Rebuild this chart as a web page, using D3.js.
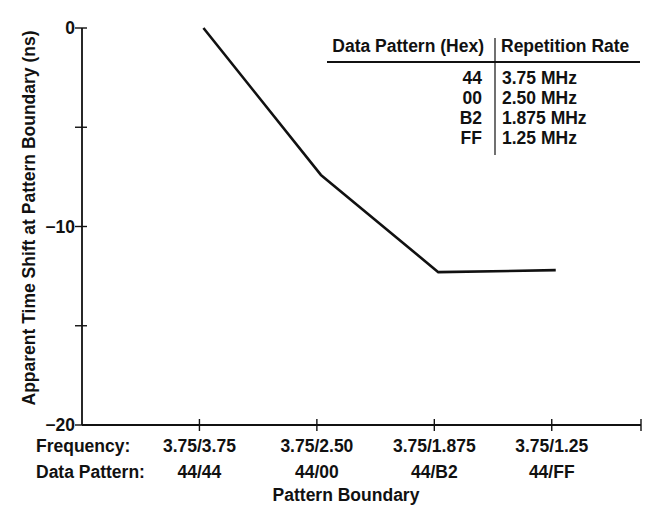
<!DOCTYPE html>
<html>
<head>
<meta charset="utf-8">
<script src="https://cdn.jsdelivr.net/npm/d3@7"></script>
<style>
  body { margin: 0; background: #fff; }
  text { font-family: "Liberation Sans", Arial, sans-serif; font-weight: bold; fill: #111; }
</style>
</head>
<body>
<div id="chart-area"></div>
<script>
// chart data
var frequencies = ["3.75/3.75", "3.75/2.50", "3.75/1.875", "3.75/1.25"];
var patterns = ["44/44", "44/00", "44/B2", "44/FF"];
var timeShift = [0, -7.4, -12.3, -12.2];
var yTicks = [0, -5, -10, -15, -20];
var yTickLabels = ["0", "", "\u221210", "", "\u221220"];
var tableHex = ["44", "00", "B2", "FF"];
var tableRate = ["3.75 MHz", "2.50 MHz", "1.875 MHz", "1.25 MHz"];

var width = 648, height = 506;
var fontSize = 17.5;

var svg = d3.select("#chart-area").append("svg")
    .attr("width", width)
    .attr("height", height);

// x: categories sit at 1..4, axis runs from 0 to a bit past the last one
var x = d3.scaleLinear().domain([0, 4.76]).range([82, 641]);
var y = d3.scaleLinear().domain([-20, 0]).range([425, 28]);

// y axis
svg.append("line")
    .attr("x1", x(0)).attr("x2", x(0))
    .attr("y1", y(0)).attr("y2", y(-20))
    .attr("stroke", "#111").attr("stroke-width", 1.8);

svg.selectAll(".ytick").data(yTicks).enter()
    .append("line")
    .attr("class", "ytick")
    .attr("x1", x(0) - 7).attr("x2", x(0) + 5)
    .attr("y1", function(d){ return y(d); })
    .attr("y2", function(d){ return y(d); })
    .attr("stroke", "#111").attr("stroke-width", 1.4);

svg.selectAll(".ylabel").data(yTicks).enter()
    .append("text")
    .attr("class", "ylabel")
    .attr("x", x(0) - 7)
    .attr("y", function(d){ return y(d) + 6; })
    .attr("text-anchor", "end")
    .attr("font-size", fontSize)
    .text(function(d, i){ return yTickLabels[i]; });

// x axis
svg.append("line")
    .attr("x1", x(0)).attr("x2", x(4.76))
    .attr("y1", y(-20)).attr("y2", y(-20))
    .attr("stroke", "#111").attr("stroke-width", 1.8);

var xTicks = [1, 2, 3, 4, 4.76];
svg.selectAll(".xtick").data(xTicks).enter()
    .append("line")
    .attr("class", "xtick")
    .attr("x1", function(d){ return x(d); })
    .attr("x2", function(d){ return x(d); })
    .attr("y1", y(-20) - 6).attr("y2", y(-20) + 6)
    .attr("stroke", "#111").attr("stroke-width", 1.4);

// category labels, two rows
svg.selectAll(".freq").data(frequencies).enter()
    .append("text")
    .attr("class", "freq")
    .attr("x", function(d, i){ return x(i + 1); })
    .attr("y", 452)
    .attr("text-anchor", "middle")
    .attr("font-size", fontSize)
    .text(function(d){ return d; });

svg.selectAll(".pat").data(patterns).enter()
    .append("text")
    .attr("class", "pat")
    .attr("x", function(d, i){ return x(i + 1); })
    .attr("y", 478)
    .attr("text-anchor", "middle")
    .attr("font-size", fontSize)
    .text(function(d){ return d; });

svg.append("text").attr("x", 36).attr("y", 452)
    .attr("font-size", fontSize).text("Frequency:");
svg.append("text").attr("x", 36).attr("y", 478)
    .attr("font-size", fontSize).text("Data Pattern:");

// axis titles
svg.append("text")
    .attr("x", 346).attr("y", 501)
    .attr("text-anchor", "middle")
    .attr("font-size", fontSize)
    .text("Pattern Boundary");

svg.append("text")
    .attr("transform", "translate(35,218) rotate(-90)")
    .attr("text-anchor", "middle")
    .attr("font-size", fontSize)
    .text("Apparent Time Shift at Pattern Boundary (ns)");

// the curve
var line = d3.line()
    .x(function(d, i){ return x(i + 1) + 4; })
    .y(function(d){ return y(d); });

svg.append("path")
    .datum(timeShift)
    .attr("d", line)
    .attr("fill", "none")
    .attr("stroke", "#111")
    .attr("stroke-width", 2.6)
    .attr("stroke-linejoin", "round");

// inset table
svg.append("text").attr("x", 484).attr("y", 52)
    .attr("text-anchor", "end").attr("font-size", fontSize)
    .text("Data Pattern (Hex)");
svg.append("text").attr("x", 501).attr("y", 52)
    .attr("font-size", fontSize).text("Repetition Rate");

svg.append("line")
    .attr("x1", 327).attr("x2", 640)
    .attr("y1", 62).attr("y2", 62)
    .attr("stroke", "#111").attr("stroke-width", 1.8);
svg.append("line")
    .attr("x1", 495).attr("x2", 495)
    .attr("y1", 38).attr("y2", 155)
    .attr("stroke", "#111").attr("stroke-width", 1.2);

svg.selectAll(".hex").data(tableHex).enter()
    .append("text")
    .attr("class", "hex")
    .attr("x", 482)
    .attr("y", function(d, i){ return 84 + i * 20; })
    .attr("text-anchor", "end")
    .attr("font-size", fontSize)
    .text(function(d){ return d; });

svg.selectAll(".rate").data(tableRate).enter()
    .append("text")
    .attr("class", "rate")
    .attr("x", 502)
    .attr("y", function(d, i){ return 84 + i * 20; })
    .attr("font-size", fontSize)
    .text(function(d){ return d; });
</script>
</body>
</html>
